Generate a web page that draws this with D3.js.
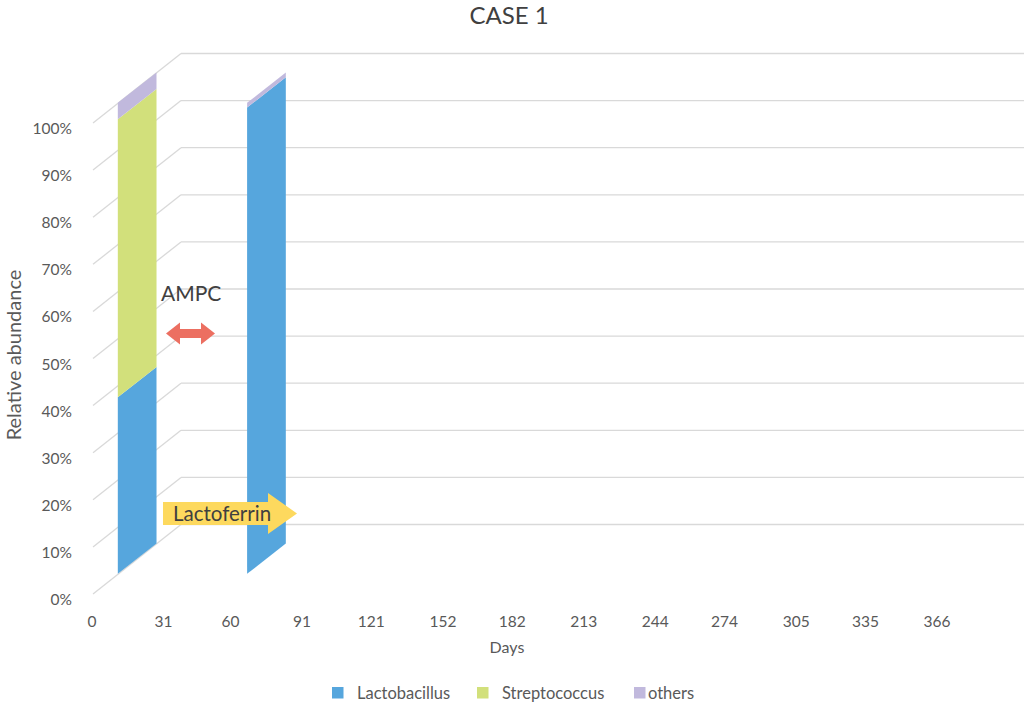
<!DOCTYPE html>
<html>
<head>
<meta charset="utf-8">
<script src="https://cdn.jsdelivr.net/npm/d3@7"></script>
<style>
  html, body { margin: 0; padding: 0; background: #fff; }
  svg { display: block; font-family: Lato, "Open Sans", sans-serif; }
</style>
</head>
<body>
<svg id="chart" width="1024" height="706"></svg>
<script>
// ---- data ----
const days = [0, 56];
const lactobacillus = [37.5, 99];
const streptococcus = [59, 0];
const others = [3.5, 1];
const seriesNames = ["Lactobacillus", "Streptococcus", "others"];
const seriesColors = ["#56A6DD", "#D2E07B", "#C1B9DD"];
const dayTicks = [0, 31, 60, 91, 121, 152, 182, 213, 244, 274, 305, 335, 366];
const pctTicks = [0, 10, 20, 30, 40, 50, 60, 70, 80, 90, 100];

// ---- layout ----
const W = 1024, H = 706;
const svg = d3.select("#chart");
const x = d3.scaleLinear().domain([0, 366]).range([92, 937]);
const y = d3.scaleLinear().domain([0, 100]).range([594, 123]);
const DX = 89, DY = -69.5;          // depth offset (oblique projection)
const D1 = 0.29, D2 = 0.725;       // bar depth extent
const proj = (day, v, d) => [x(day) + d * DX, y(v) + d * DY];
const grid = "#d9d9d9", txt = "#595959";

// gridlines: side wall diagonals + back wall horizontals
const g = svg.append("g");
pctTicks.forEach(v => {
  const f = proj(0, v, 0), b = proj(0, v, 1);
  g.append("line").attr("x1", f[0] + 1).attr("y1", f[1]).attr("x2", b[0]).attr("y2", b[1])
    .attr("stroke", grid).attr("stroke-width", 1.3);
  g.append("line").attr("x1", b[0]).attr("y1", b[1]).attr("x2", W).attr("y2", b[1])
    .attr("stroke", grid).attr("stroke-width", 1.3);
});

// y tick labels
svg.append("g").selectAll("text").data(pctTicks).join("text")
  .attr("x", 72).attr("y", d => y(d) + 5)
  .attr("text-anchor", "end").attr("dominant-baseline", "central")
  .attr("font-size", 15.5).attr("fill", txt)
  .text(d => d + "%");

// x tick labels
svg.append("g").selectAll("text").data(dayTicks).join("text")
  .attr("x", d => x(d)).attr("y", 621)
  .attr("text-anchor", "middle").attr("dominant-baseline", "central")
  .attr("font-size", 15.5).attr("fill", txt)
  .text(d => d);

// stacked bars as depth-ribbons
const stackData = days.map((d, i) => ({
  day: d, Lactobacillus: lactobacillus[i], Streptococcus: streptococcus[i], others: others[i]
}));
const stacked = d3.stack().keys(seriesNames)(stackData);
const color = d3.scaleOrdinal().domain(seriesNames).range(seriesColors);
stacked.forEach(layer => {
  svg.append("g").selectAll("path").data(layer.filter(s => s[1] - s[0] > 0)).join("path")
    .attr("fill", color(layer.key))
    .attr("d", s => {
      const pts = [proj(s.data.day, s[0], D1), proj(s.data.day, s[1], D1),
                   proj(s.data.day, s[1], D2), proj(s.data.day, s[0], D2)];
      return "M" + pts.map(p => p.join(",")).join("L") + "Z";
    });
});

// title
svg.append("text").attr("x", 509).attr("y", 24).attr("text-anchor", "middle")
  .attr("font-size", 24).attr("fill", "#404040").text("CASE 1");

// y axis title
svg.append("text").attr("transform", "translate(21,355) rotate(-90)")
  .attr("text-anchor", "middle").attr("font-size", 20).attr("fill", txt)
  .text("Relative abundance");

// x axis title
svg.append("text").attr("x", 507).attr("y", 653).attr("text-anchor", "middle")
  .attr("font-size", 16).attr("fill", txt).text("Days");

// AMPC annotation
svg.append("text").attr("x", 161).attr("y", 301).attr("font-size", 21)
  .attr("fill", "#404040").text("AMPC");
const ax0 = 166, ax1 = 215, ay = 333.5;
svg.append("path").attr("fill", "#EC6F61")
  .attr("d", `M${ax0},${ay} L${ax0 + 14},${ay - 11} L${ax0 + 14},${ay - 4.5} L${ax1 - 14},${ay - 4.5} L${ax1 - 14},${ay - 11} L${ax1},${ay} L${ax1 - 14},${ay + 11} L${ax1 - 14},${ay + 4.5} L${ax0 + 14},${ay + 4.5} L${ax0 + 14},${ay + 11} Z`);

// Lactoferrin arrow
const lx0 = 163, lx1 = 268, tip = 297, ly = 513.5;
svg.append("path").attr("fill", "#FDD95E")
  .attr("d", `M${lx0},${ly - 11.5} L${lx1},${ly - 11.5} L${lx1},${ly - 20.5} L${tip},${ly} L${lx1},${ly + 20.5} L${lx1},${ly + 11.5} L${lx0},${ly + 11.5} Z`);
svg.append("text").attr("x", 173).attr("y", 521).attr("font-size", 20.5)
  .attr("fill", "#404040").text("Lactoferrin");

// legend
const legendX = [332, 477, 634];
const lg = svg.append("g");
seriesNames.forEach((n, i) => {
  lg.append("rect").attr("x", legendX[i]).attr("y", 687).attr("width", 11.5).attr("height", 11.5)
    .attr("fill", seriesColors[i]);
  lg.append("text").attr("x", legendX[i] + (i === 2 ? 14 : 25)).attr("y", 698.5)
    .attr("font-size", 16.5).attr("fill", txt).text(n);
});
</script>
</body>
</html>
